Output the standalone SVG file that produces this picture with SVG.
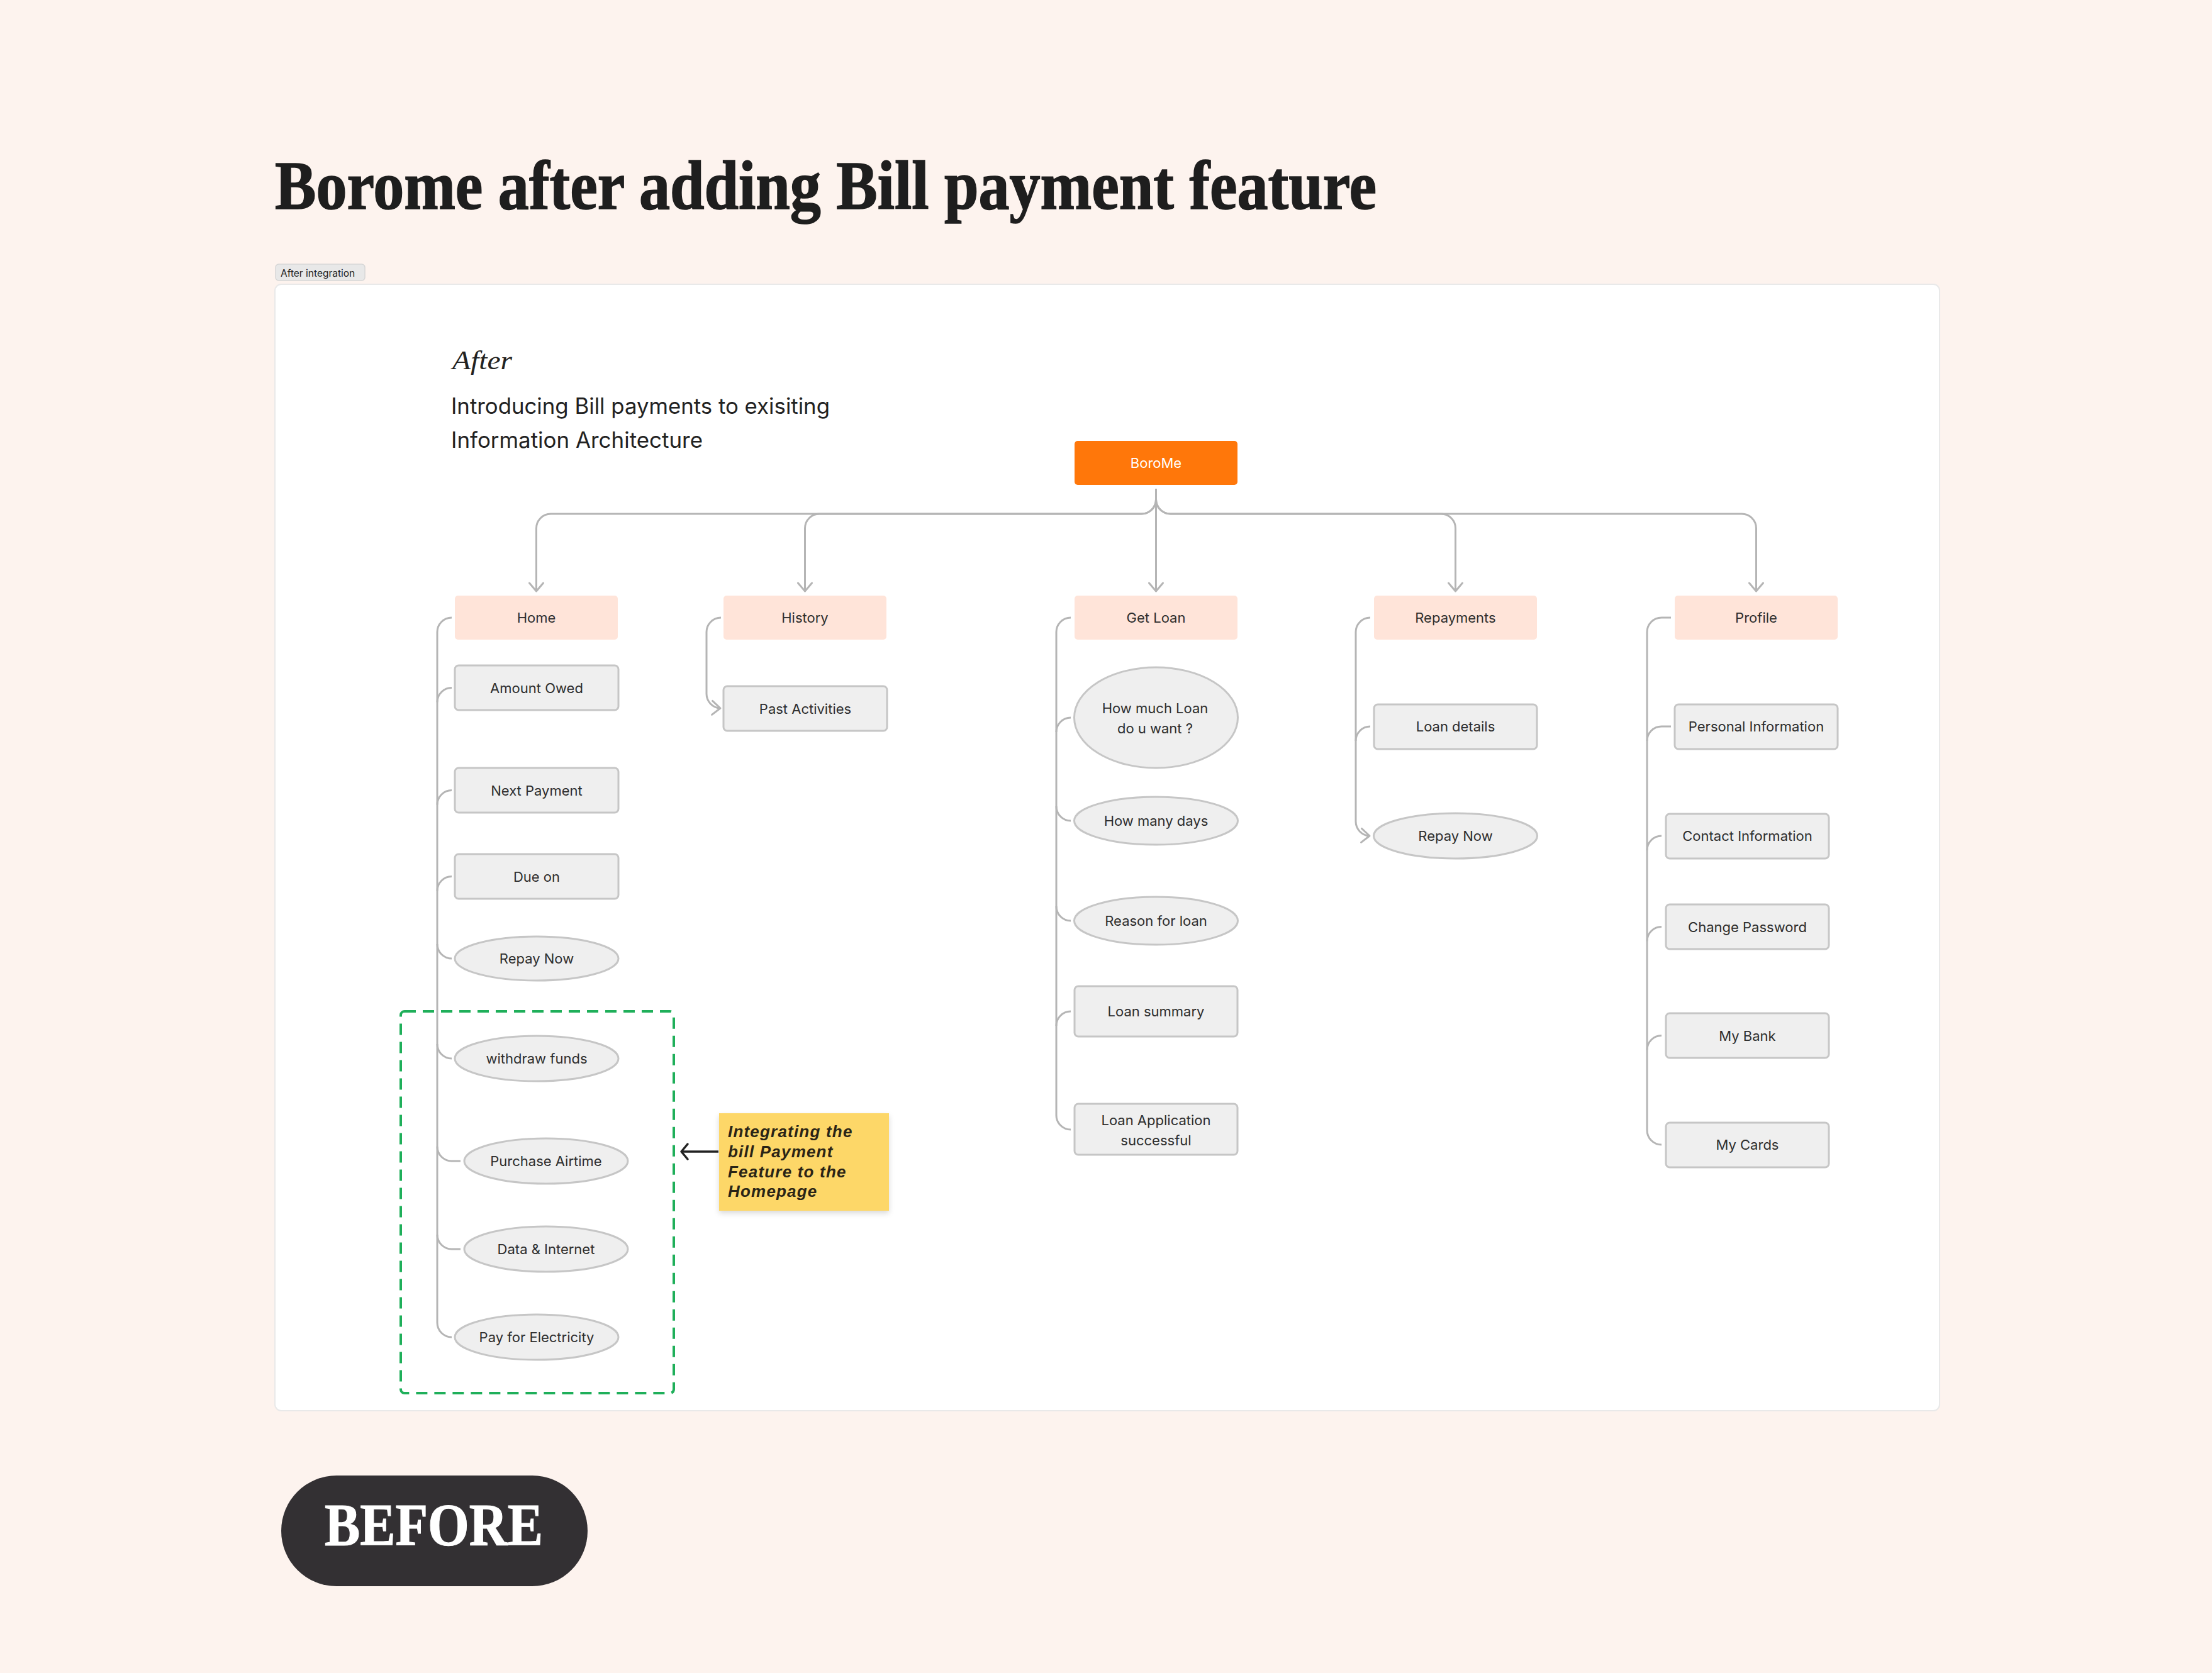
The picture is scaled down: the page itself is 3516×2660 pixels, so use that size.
<svg xmlns="http://www.w3.org/2000/svg" width="3516" height="2660" viewBox="0 0 3516 2660">
<defs>
<style>
.lbl{font-family:Inter,"Liberation Sans",sans-serif;font-size:22px;fill:#2E2E2E;text-anchor:middle}
.l1{fill:#FFE4D9}
.box{fill:#EFEFEF;stroke:#C6C6C6;stroke-width:3}
.con{fill:none;stroke:#B5B5B5;stroke-width:3}
.sticky{font-family:"Liberation Sans",sans-serif;font-weight:bold;font-style:italic;font-size:26px;fill:#2A2416;letter-spacing:1.2px}
</style>
<marker id="chev" markerUnits="userSpaceOnUse" markerWidth="40" markerHeight="40" refX="0" refY="0" viewBox="-20 -20 40 40" orient="auto" overflow="visible">
<path d="M-13,-11 L0,0 L-13,11" fill="none" stroke="#B5B5B5" stroke-width="3" stroke-linecap="round" stroke-linejoin="round"/>
</marker>
<marker id="chevk" markerUnits="userSpaceOnUse" markerWidth="40" markerHeight="40" refX="0" refY="0" viewBox="-20 -20 40 40" orient="auto" overflow="visible">
<path d="M-10,-12 L0,0 L-10,12" fill="none" stroke="#222222" stroke-width="3.5" stroke-linecap="round" stroke-linejoin="round"/>
</marker>
<filter id="shadow" x="-10%" y="-10%" width="120%" height="130%">
<feDropShadow dx="0" dy="4" stdDeviation="4" flood-color="#000" flood-opacity="0.15"/>
</filter>
</defs>

<rect x="0" y="0" width="3516" height="2660" fill="#FDF3EE"/>

<text x="437" y="332" font-family="'Liberation Serif',serif" font-weight="bold" font-size="110" fill="#1E1E1E" stroke="#1E1E1E" stroke-width="1.6" textLength="1751" lengthAdjust="spacingAndGlyphs">Borome after adding Bill payment feature</text>

<g id="tag">
<rect x="438" y="420" width="142" height="26" rx="5" fill="#E8E8E8" stroke="#D6D6D6" stroke-width="1.5"/>
<text x="446" y="440" font-family="Inter,'Liberation Sans',sans-serif" font-size="15.5" fill="#222">After integration</text>
</g>

<rect id="panel" x="437" y="452" width="2646" height="1791" rx="10" fill="#FFFFFF" stroke="#E9E9E9" stroke-width="2"/>

<text x="719" y="587" font-family="'Liberation Serif',serif" font-style="italic" font-size="42" fill="#222" textLength="95" lengthAdjust="spacingAndGlyphs">After</text>
<text font-family="Inter,'Liberation Sans',sans-serif" font-size="35" fill="#222">
<tspan x="717" y="658" textLength="602" lengthAdjust="spacingAndGlyphs">Introducing Bill payments to exisiting</tspan>
<tspan x="717" y="712" textLength="400" lengthAdjust="spacingAndGlyphs">Information Architecture</tspan>
</text>

<g id="connectors">
<path class="con" marker-end="url(#chev)" d="M1837.5,777 V794 A23,23 0 0 1 1814.5,817 H875.5 A23,23 0 0 0 852.5,840 V940"/>
<path class="con" marker-end="url(#chev)" d="M1837.5,777 V794 A23,23 0 0 1 1814.5,817 H1302.5 A23,23 0 0 0 1279.5,840 V940"/>
<path class="con" marker-end="url(#chev)" d="M1837.5,777 V940"/>
<path class="con" marker-end="url(#chev)" d="M1837.5,777 V794 A23,23 0 0 0 1860.5,817 H2290.5 A23,23 0 0 1 2313.5,840 V940"/>
<path class="con" marker-end="url(#chev)" d="M1837.5,777 V794 A23,23 0 0 0 1860.5,817 H2768.5 A23,23 0 0 1 2791.5,840 V940"/>

<path class="con" d="M718,982 A23,23 0 0 0 695,1005 V2103 A23,23 0 0 0 718,2126"/>
<path class="con" d="M695,1116.5 A23,23 0 0 1 718,1093.5"/>
<path class="con" d="M695,1279.5 A23,23 0 0 1 718,1256.5"/>
<path class="con" d="M695,1416.5 A23,23 0 0 1 718,1393.5"/>
<path class="con" d="M695,1501 A23,23 0 0 0 718,1524"/>
<path class="con" d="M695,1660 A23,23 0 0 0 718,1683"/>
<path class="con" d="M695,1823 A23,23 0 0 0 718,1846 H732"/>
<path class="con" d="M695,1963 A23,23 0 0 0 718,1986 H732"/>

<path class="con" marker-end="url(#chev)" d="M1146,982 A23,23 0 0 0 1123,1005 V1103 A23,23 0 0 0 1145,1126"/>

<path class="con" d="M1702,982 A23,23 0 0 0 1679,1005 V1773 A23,23 0 0 0 1702,1796"/>
<path class="con" d="M1679,1164 A23,23 0 0 1 1702,1141"/>
<path class="con" d="M1679,1282 A23,23 0 0 0 1702,1305"/>
<path class="con" d="M1679,1441 A23,23 0 0 0 1702,1464"/>
<path class="con" d="M1679,1631 A23,23 0 0 1 1702,1608"/>

<path class="con" marker-end="url(#chev)" d="M2178,982 A23,23 0 0 0 2155,1005 V1306 A23,23 0 0 0 2177,1329"/>
<path class="con" d="M2155,1178 A23,23 0 0 1 2178,1155"/>

<path class="con" d="M2656,982 H2641 A23,23 0 0 0 2618,1005 V1797 A23,23 0 0 0 2641,1820"/>
<path class="con" d="M2618,1178 A23,23 0 0 1 2641,1155 H2656"/>
<path class="con" d="M2618,1352 A23,23 0 0 1 2641,1329"/>
<path class="con" d="M2618,1496.5 A23,23 0 0 1 2641,1473.5"/>
<path class="con" d="M2618,1669.5 A23,23 0 0 1 2641,1646.5"/>

<path d="M1142,1831 H1083" fill="none" stroke="#222222" stroke-width="3.5" marker-end="url(#chevk)"/>
</g>

<g id="root">
<rect x="1708" y="701" width="259" height="70" rx="5" fill="#FF770A"/>
<text class="lbl" x="1837.5" y="744" style="fill:#FFFFFF">BoroMe</text>
</g>

<g id="home"><rect class="l1" x="723" y="947" width="259" height="70" rx="5"/><text class="lbl" x="852.5" y="990">Home</text></g>
<g id="history"><rect class="l1" x="1150" y="947" width="259" height="70" rx="5"/><text class="lbl" x="1279.5" y="990">History</text></g>
<g id="getloan"><rect class="l1" x="1708" y="947" width="259" height="70" rx="5"/><text class="lbl" x="1837.5" y="990">Get Loan</text></g>
<g id="repayments"><rect class="l1" x="2184" y="947" width="259" height="70" rx="5"/><text class="lbl" x="2313.5" y="990">Repayments</text></g>
<g id="profile"><rect class="l1" x="2662" y="947" width="259" height="70" rx="5"/><text class="lbl" x="2791.5" y="990">Profile</text></g>

<g id="amount-owed"><rect class="box" x="723" y="1058" width="260" height="71" rx="6"/><text class="lbl" x="853" y="1101.5">Amount Owed</text></g>
<g id="next-payment"><rect class="box" x="723" y="1221" width="260" height="71" rx="6"/><text class="lbl" x="853" y="1264.5">Next Payment</text></g>
<g id="due-on"><rect class="box" x="723" y="1358" width="260" height="71" rx="6"/><text class="lbl" x="853" y="1401.5">Due on</text></g>
<g id="home-repay-now"><ellipse class="box" cx="853" cy="1524" rx="130" ry="35"/><text class="lbl" x="853" y="1532">Repay Now</text></g>

<g id="bill-payment-group">
<rect x="637" y="1608" width="434" height="607" rx="6" fill="none" stroke="#1FAF5A" stroke-width="4" stroke-dasharray="18 11"/>
</g>
<g id="withdraw-funds"><ellipse class="box" cx="853" cy="1683" rx="130" ry="36"/><text class="lbl" x="853" y="1691">withdraw funds</text></g>
<g id="purchase-airtime"><ellipse class="box" cx="868" cy="1846" rx="130" ry="36"/><text class="lbl" x="868" y="1854">Purchase Airtime</text></g>
<g id="data-internet"><ellipse class="box" cx="868" cy="1986" rx="130" ry="36"/><text class="lbl" x="868" y="1994">Data &amp; Internet</text></g>
<g id="pay-electricity"><ellipse class="box" cx="853" cy="2126" rx="130" ry="36"/><text class="lbl" x="853" y="2134">Pay for Electricity</text></g>

<g id="sticky-note">
<rect x="1143" y="1770" width="270" height="155" fill="#FDD767" filter="url(#shadow)"/>
<text class="sticky"><tspan x="1157" y="1808">Integrating the</tspan><tspan x="1157" y="1840">bill Payment</tspan><tspan x="1157" y="1872">Feature to the</tspan><tspan x="1157" y="1903">Homepage</tspan></text>
</g>

<g id="past-activities"><rect class="box" x="1150" y="1091" width="260" height="71" rx="6"/><text class="lbl" x="1280" y="1134.5">Past Activities</text></g>

<g id="how-much-loan"><ellipse class="box" cx="1837.5" cy="1141" rx="130" ry="80"/><text class="lbl"><tspan x="1836" y="1134">How much Loan</tspan><tspan x="1836" y="1166">do u want ?</tspan></text></g>
<g id="how-many-days"><ellipse class="box" cx="1837.5" cy="1305" rx="130" ry="38"/><text class="lbl" x="1837.5" y="1313">How many days</text></g>
<g id="reason-for-loan"><ellipse class="box" cx="1837.5" cy="1464" rx="130" ry="38"/><text class="lbl" x="1837.5" y="1472">Reason for loan</text></g>
<g id="loan-summary"><rect class="box" x="1708" y="1568" width="259" height="80" rx="6"/><text class="lbl" x="1837.5" y="1616">Loan summary</text></g>
<g id="loan-application"><rect class="box" x="1708" y="1755" width="259" height="81" rx="6"/><text class="lbl"><tspan x="1837.5" y="1789">Loan Application</tspan><tspan x="1837.5" y="1821">successful</tspan></text></g>

<g id="loan-details"><rect class="box" x="2184" y="1120" width="259" height="71" rx="6"/><text class="lbl" x="2313.5" y="1163">Loan details</text></g>
<g id="repay-now"><ellipse class="box" cx="2313.5" cy="1329" rx="130" ry="36"/><text class="lbl" x="2313.5" y="1337">Repay Now</text></g>

<g id="personal-information"><rect class="box" x="2662" y="1120" width="259" height="71" rx="6"/><text class="lbl" x="2791.5" y="1163">Personal Information</text></g>
<g id="contact-information"><rect class="box" x="2648" y="1294" width="259" height="71" rx="6"/><text class="lbl" x="2777.5" y="1337">Contact Information</text></g>
<g id="change-password"><rect class="box" x="2648" y="1438" width="259" height="71" rx="6"/><text class="lbl" x="2777.5" y="1481.5">Change Password</text></g>
<g id="my-bank"><rect class="box" x="2648" y="1611" width="259" height="71" rx="6"/><text class="lbl" x="2777.5" y="1654.5">My Bank</text></g>
<g id="my-cards"><rect class="box" x="2648" y="1785" width="259" height="71" rx="6"/><text class="lbl" x="2777.5" y="1828">My Cards</text></g>

<g id="before-pill">
<rect x="447" y="2346" width="487" height="176" rx="88" fill="#333033"/>
<text x="516" y="2457" font-family="'Liberation Serif',serif" font-weight="bold" font-size="95" fill="#FFFFFF" stroke="#FFFFFF" stroke-width="1.2" textLength="347" lengthAdjust="spacingAndGlyphs">BEFORE</text>
</g>
</svg>
